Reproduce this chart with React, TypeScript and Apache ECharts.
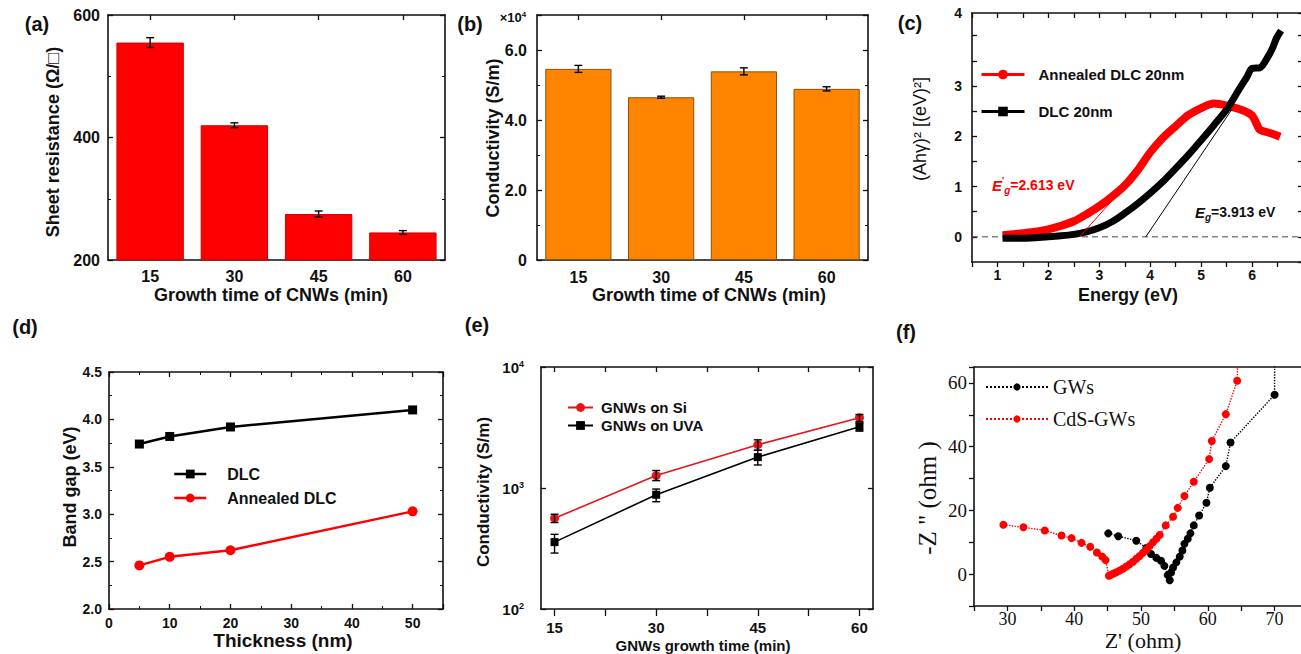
import React, { useEffect, useRef } from 'react';
import * as echarts from 'echarts';

const SANS = '"Liberation Sans", Arial, Helvetica, sans-serif';
const SERIF = '"Liberation Serif", "Times New Roman", serif';
const INK = '#111';
const RED = '#ff0000';
const ORANGE = '#ff8400';

// ---------- (a) sheet resistance ----------
const growthTimes = ['15', '30', '45', '60'];
const sheetResistance = [555, 420, 275, 245];
const sheetResistanceErr = [8, 4, 5, 3];

// ---------- (b) conductivity (x10^4 S/m) ----------
const conductivityE4 = [5.46, 4.65, 5.39, 4.89];
const conductivityE4Err = [0.1, 0.03, 0.1, 0.06];

// ---------- (c) Tauc plot ----------
const annealedDlc20: number[][] = [
  [1.1, 0.03], [1.3, 0.05], [1.5, 0.07], [1.75, 0.1], [2.0, 0.15], [2.25, 0.22], [2.5, 0.31],
  [2.75, 0.45], [3.0, 0.61], [3.25, 0.8], [3.5, 1.02], [3.75, 1.32], [4.0, 1.68], [4.25, 1.97],
  [4.5, 2.2], [4.75, 2.42], [5.0, 2.56], [5.25, 2.65], [5.5, 2.61], [5.8, 2.52], [6.0, 2.41],
  [6.1, 2.22], [6.15, 2.13], [6.3, 2.08], [6.45, 2.03], [6.55, 1.99],
];
const dlc20: number[][] = [
  [1.1, -0.03], [1.5, -0.03], [2.0, 0.0], [2.25, 0.02], [2.5, 0.05], [2.75, 0.1], [3.0, 0.18],
  [3.25, 0.3], [3.5, 0.47], [3.75, 0.66], [4.0, 0.87], [4.25, 1.1], [4.5, 1.36], [4.75, 1.63],
  [5.0, 1.92], [5.25, 2.22], [5.5, 2.53], [5.75, 2.94], [5.9, 3.18], [6.0, 3.35], [6.15, 3.36],
  [6.3, 3.56], [6.4, 3.75], [6.48, 3.95], [6.57, 4.1],
];
const annealedTangent: number[][] = [[2.613, 0], [3.62, 1.14]];
const dlcTangent: number[][] = [[3.913, 0], [5.6, 2.53]];
const zeroBaseline: number[][] = [[0.5, 0], [7, 0]];

// ---------- (d) band gap vs thickness ----------
const thicknessNm = [5, 10, 20, 50];
const dlcBandGap = [3.74, 3.82, 3.92, 4.1];
const annealedBandGap = [2.46, 2.55, 2.62, 3.03];

// ---------- (e) conductivity vs growth time ----------
const gnwTimes = [15, 30, 45, 60];
const gnwSi = [562, 1268, 2280, 3810];
const gnwSiLow = [518, 1150, 2050, 3530];
const gnwSiHigh = [607, 1395, 2500, 4050];
const gnwUva = [357, 880, 1800, 3205];
const gnwUvaLow = [290, 770, 1550, 2950];
const gnwUvaHigh = [414, 980, 2050, 3450];

// ---------- (f) Nyquist ----------
const gwsZ: any[] = [
  [45.1, 12.8], [46.6, 11.9], [49.3, 10.5], [50.8, 8.2], [51.5, 6.3], [52.3, 5.1], [53.0, 4.2],
  [53.5, 2.6], [54.0, -0.3], [54.3, -1.9], [54.5, 0.5], [54.8, 2.1], [55.3, 3.7], [55.8, 5.5],
  [56.2, 7.4], [56.5, 9.5], [57.0, 11.1], [57.4, 12.8], [57.9, 15.3], [58.7, 18.4], [59.8, 22.4],
  [60.3, 27.1], [62.7, 33.9], [63.4, 41.3], [70.0, 56.3], { value: [70.0, 80], symbol: 'none' },
];
const cdsGwsZ: any[] = [
  [29.4, 15.5], [32.4, 14.7], [35.6, 13.7], [38.1, 12.1], [39.6, 11.3], [41.1, 9.8], [42.4, 8.6],
  [43.4, 6.8], [44.2, 5.5], [44.7, 4.4], [45.2, -0.5], [45.5, -0.2], [45.9, 0.2], [46.3, 0.6],
  [46.8, 1.1], [47.3, 1.7], [47.8, 2.4], [48.3, 3.1], [48.8, 3.9], [49.3, 4.8], [49.8, 5.7],
  [50.3, 6.7], [50.8, 7.7], [51.3, 8.8], [51.8, 10.0], [52.3, 11.1], [52.8, 12.3], [53.7, 15.3],
  [54.8, 18.0], [55.5, 20.8], [56.5, 24.5], [57.9, 29.0], [60.2, 36.1], [60.6, 41.8], [62.7, 50.2],
  [64.4, 60.7], { value: [64.6, 80], symbol: 'none' },
];

// ---------------------------------------------------------------
function merge(a: any, b: any): any {
  const r: any = { ...a };
  for (const k in b) {
    const v = b[k];
    if (v && typeof v === 'object' && !Array.isArray(v) && a[k] && typeof a[k] === 'object' && !Array.isArray(a[k])) {
      r[k] = merge(a[k], v);
    } else r[k] = v;
  }
  return r;
}

const baseAxis = {
  splitLine: { show: false },
  axisLine: { show: true, onZero: false, lineStyle: { color: INK, width: 1.6 } },
  axisTick: { show: true, inside: true, length: 5, lineStyle: { color: INK, width: 1.3 } },
  minorTick: { show: false, length: 3, lineStyle: { color: INK, width: 1 } },
  axisLabel: { show: true, color: INK, fontFamily: SANS, fontWeight: 'bold', fontSize: 15 },
};
const ax = (o: any) => merge(baseAxis, o);
const noLabel = { axisLabel: { show: false } };

function errorBars(cap: number) {
  return (_p: any, api: any) => {
    const x = api.value(0);
    const lo = api.coord([x, api.value(1)]);
    const hi = api.coord([x, api.value(2)]);
    const st = { stroke: '#000', lineWidth: 1.4 };
    return {
      type: 'group',
      children: [
        { type: 'line', shape: { x1: lo[0], y1: lo[1], x2: hi[0], y2: hi[1] }, style: st },
        { type: 'line', shape: { x1: lo[0] - cap, y1: lo[1], x2: lo[0] + cap, y2: lo[1] }, style: st },
        { type: 'line', shape: { x1: hi[0] - cap, y1: hi[1], x2: hi[0] + cap, y2: hi[1] }, style: st },
      ],
    };
  };
}

function txt(text: string, x: number, y: number, size: number, o: any = {}) {
  return {
    type: 'text', x, y, rotation: o.rot || 0, silent: true, z: 100,
    style: {
      text, fill: o.color || INK, fontSize: size, fontWeight: o.weight || 'bold',
      fontFamily: o.family || SANS, fontStyle: o.style || 'normal',
      align: o.align || 'center', verticalAlign: 'middle', rich: o.rich,
    },
  };
}

function buildOption() {
  const grids = [
    { left: 108, top: 15, width: 337, height: 245 },
    { left: 537, top: 15, width: 331, height: 245 },
    { left: 972, top: 13, width: 331, height: 249 },
    { left: 109, top: 372, width: 334, height: 237 },
    { left: 541, top: 367, width: 332, height: 242 },
    { left: 974, top: 367, width: 334, height: 239 },
  ].map((g) => ({ ...g, containLabel: false, outerBoundsMode: 'none', show: false }));

  const intLabel = (v: number) =>
    Math.abs(v - Math.round(v)) < 1e-9 && v <= 6 ? String(Math.round(v)) : '';

  const xAxis = [
    // (a)
    ax({ type: 'category', gridIndex: 0, data: growthTimes, axisTick: { alignWithLabel: true }, axisLabel: { fontSize: 16, margin: 8 } }),
    ax({ type: 'category', gridIndex: 0, position: 'top', data: growthTimes, axisTick: { alignWithLabel: true }, ...noLabel }),
    // (b)
    ax({ type: 'category', gridIndex: 1, data: growthTimes, axisTick: { alignWithLabel: true }, axisLabel: { fontSize: 16, margin: 9 } }),
    ax({ type: 'category', gridIndex: 1, position: 'top', data: growthTimes, axisTick: { alignWithLabel: true }, ...noLabel }),
    // (c)
    ax({ type: 'value', gridIndex: 2, min: 0.5, max: 7, interval: 0.5, axisTick: { inside: false, length: 5 },
      axisLabel: { fontSize: 14, margin: 6, formatter: intLabel } }),
    ax({ type: 'value', gridIndex: 2, position: 'top', min: 0.5, max: 7, interval: 0.5, ...noLabel }),
    // (d)
    ax({ type: 'value', gridIndex: 3, min: 0, max: 55, interval: 10, minorTick: { show: true, splitNumber: 2 },
      axisLabel: { fontSize: 14, margin: 7, formatter: (v: number) => (v % 10 === 0 ? String(v) : '') } }),
    ax({ type: 'value', gridIndex: 3, position: 'top', min: 0, max: 55, interval: 10, minorTick: { show: true, splitNumber: 2 }, ...noLabel }),
    // (e)
    ax({ type: 'value', gridIndex: 4, min: 13, max: 62,
      axisLabel: { fontSize: 15, margin: 11, customValues: [15, 30, 45, 60] },
      axisTick: { inside: false, length: 7, customValues: [15, 22.5, 30, 37.5, 45, 52.5, 60] } }),
    ax({ type: 'value', gridIndex: 4, position: 'top', min: 13, max: 62,
      axisLabel: { show: false, customValues: [15, 30, 45, 60] },
      axisTick: { customValues: [15, 22.5, 30, 37.5, 45, 52.5, 60] } }),
    // (f)
    ax({ type: 'value', gridIndex: 5, min: 25, max: 75, interval: 5,
      axisTick: { inside: false, length: 5 },
      axisLabel: { fontFamily: SERIF, fontWeight: 'normal', fontSize: 18, margin: 4, formatter: (v: number) => (v % 10 === 0 ? String(v) : '') } }),
    ax({ type: 'value', gridIndex: 5, position: 'top', min: 25, max: 75, interval: 5, axisTick: { show: false }, ...noLabel }),
  ];

  const yAxis = [
    // (a)
    ax({ type: 'value', gridIndex: 0, min: 200, max: 600, interval: 200, minorTick: { show: true, splitNumber: 2 }, axisLabel: { fontSize: 16, margin: 8 } }),
    ax({ type: 'value', gridIndex: 0, position: 'right', min: 200, max: 600, interval: 200, minorTick: { show: true, splitNumber: 2 }, ...noLabel }),
    // (b)
    ax({ type: 'value', gridIndex: 1, min: 0, max: 7, interval: 2, minorTick: { show: true, splitNumber: 2 },
      axisLabel: { fontSize: 16, margin: 10, formatter: (v: number) => (v === 0 ? '0' : v % 2 === 0 ? v.toFixed(1) : '') } }),
    ax({ type: 'value', gridIndex: 1, position: 'right', min: 0, max: 7, interval: 2, minorTick: { show: true, splitNumber: 2 }, ...noLabel }),
    // (c)
    ax({ type: 'value', gridIndex: 2, min: -0.5, max: 4.45,
      axisLabel: { fontSize: 14, margin: 10, customValues: [0, 1, 2, 3, 4.45], formatter: (v: number) => (v > 4 ? '4' : String(v)) },
      axisTick: { customValues: [0, 0.5, 1, 1.5, 2, 2.5, 3, 3.5, 4] } }),
    ax({ type: 'value', gridIndex: 2, position: 'right', min: -0.5, max: 4.45, interval: 0.5, axisLine: { show: false }, ...noLabel }),
    // (d)
    ax({ type: 'value', gridIndex: 3, min: 2, max: 4.5, interval: 0.5, minorTick: { show: true, splitNumber: 2 },
      axisLabel: { fontSize: 14, margin: 7, formatter: (v: number) => v.toFixed(1) } }),
    ax({ type: 'value', gridIndex: 3, position: 'right', min: 2, max: 4.5, interval: 0.5, minorTick: { show: true, splitNumber: 2 }, ...noLabel }),
    // (e)
    ax({ type: 'log', logBase: 10, gridIndex: 4, min: 100, max: 10000,
      axisLabel: { fontSize: 15, margin: 17, formatter: (v: number) => `10{s|${Math.round(Math.log10(v))}}`,
        rich: { s: { fontSize: 9, fontWeight: 'bold', fontFamily: SANS, color: INK, verticalAlign: 'top', lineHeight: 9 } } } }),
    ax({ type: 'log', logBase: 10, gridIndex: 4, position: 'right', min: 100, max: 10000, ...noLabel }),
    // (f)
    ax({ type: 'value', gridIndex: 5, min: -10, max: 65, interval: 10, axisTick: { inside: false, length: 5 },
      axisLabel: { fontFamily: SERIF, fontWeight: 'normal', fontSize: 19, margin: 7, formatter: (v: number) => (v >= 0 && v % 20 === 0 ? String(v) : '') } }),
    ax({ type: 'value', gridIndex: 5, position: 'right', min: -10, max: 65, interval: 10, axisTick: { show: false }, ...noLabel }),
  ];

  const series: any[] = [
    // (a)
    { type: 'bar', name: 'Sheet resistance', xAxisIndex: 0, yAxisIndex: 0, data: sheetResistance, barCategoryGap: '20%',
      itemStyle: { color: RED, borderColor: '#c80000', borderWidth: 1 } },
    { type: 'custom', xAxisIndex: 0, yAxisIndex: 0, z: 10, renderItem: errorBars(4), encode: { x: 0, y: [1, 2] },
      data: sheetResistance.map((v, i) => [i, v - sheetResistanceErr[i], v + sheetResistanceErr[i]]) },
    // (b)
    { type: 'bar', name: 'Conductivity', xAxisIndex: 2, yAxisIndex: 2, data: conductivityE4, barCategoryGap: '20%',
      itemStyle: { color: ORANGE, borderColor: '#8a5210', borderWidth: 1 } },
    { type: 'custom', xAxisIndex: 2, yAxisIndex: 2, z: 10, renderItem: errorBars(4), encode: { x: 0, y: [1, 2] },
      data: conductivityE4.map((v, i) => [i, v - conductivityE4Err[i], v + conductivityE4Err[i]]) },
    // (c)
    { type: 'line', name: 'zero', xAxisIndex: 4, yAxisIndex: 4, data: zeroBaseline, symbol: 'none', z: 1,
      lineStyle: { color: '#444', width: 1, type: [6, 4] } },
    { type: 'line', name: 'Annealed DLC 20nm', xAxisIndex: 4, yAxisIndex: 4, data: annealedDlc20, smooth: 0.3,
      symbol: 'circle', showSymbol: false, color: RED, lineStyle: { color: RED, width: 8 }, z: 3 },
    { type: 'line', name: 'DLC 20nm', xAxisIndex: 4, yAxisIndex: 4, data: dlc20, smooth: 0.3,
      symbol: 'rect', showSymbol: false, color: '#000', lineStyle: { color: '#000', width: 7 }, z: 4 },
    { type: 'line', name: 'tangentA', xAxisIndex: 4, yAxisIndex: 4, data: annealedTangent, symbol: 'none', z: 5,
      lineStyle: { color: RED, width: 1 } },
    { type: 'line', name: 'tangentD', xAxisIndex: 4, yAxisIndex: 4, data: dlcTangent, symbol: 'none', z: 5,
      lineStyle: { color: '#000', width: 1 } },
    // (d)
    { type: 'line', name: 'DLC', xAxisIndex: 6, yAxisIndex: 6, data: thicknessNm.map((t, i) => [t, dlcBandGap[i]]),
      symbol: 'rect', symbolSize: 9, color: '#000', lineStyle: { color: '#000', width: 2.5 } },
    { type: 'line', name: 'Annealed DLC', xAxisIndex: 6, yAxisIndex: 6, data: thicknessNm.map((t, i) => [t, annealedBandGap[i]]),
      symbol: 'circle', symbolSize: 10, color: RED, lineStyle: { color: RED, width: 2.5 } },
    // (e)
    { type: 'line', name: 'GNWs on Si', xAxisIndex: 8, yAxisIndex: 8, data: gnwTimes.map((t, i) => [t, gnwSi[i]]),
      symbol: 'circle', symbolSize: 9, color: '#e8141a', lineStyle: { color: '#e8141a', width: 1.6 } },
    { type: 'line', name: 'GNWs on UVA', xAxisIndex: 8, yAxisIndex: 8, data: gnwTimes.map((t, i) => [t, gnwUva[i]]),
      symbol: 'rect', symbolSize: 8, color: '#000', lineStyle: { color: '#000', width: 1.6 } },
    { type: 'custom', xAxisIndex: 8, yAxisIndex: 8, z: 10, renderItem: errorBars(4), encode: { x: 0, y: [1, 2] },
      data: gnwTimes.map((t, i) => [t, gnwSiLow[i], gnwSiHigh[i]]) },
    { type: 'custom', xAxisIndex: 8, yAxisIndex: 8, z: 10, renderItem: errorBars(4), encode: { x: 0, y: [1, 2] },
      data: gnwTimes.map((t, i) => [t, gnwUvaLow[i], gnwUvaHigh[i]]) },
    // (f)
    { type: 'line', name: 'GWs', xAxisIndex: 10, yAxisIndex: 10, data: gwsZ, symbol: 'circle', symbolSize: 8,
      color: '#000', lineStyle: { color: '#000', width: 1.4, type: 'dotted' } },
    { type: 'line', name: 'CdS-GWs', xAxisIndex: 10, yAxisIndex: 10, data: cdsGwsZ, symbol: 'circle', symbolSize: 8,
      color: RED, lineStyle: { color: RED, width: 1.4, type: 'dotted' } },
  ];

  const legendBase = { orient: 'vertical', selectedMode: false, padding: 0 };
  const legend = [
    { ...legendBase, data: ['Annealed DLC 20nm', 'DLC 20nm'], left: 980, top: 67, itemWidth: 43, itemHeight: 12, itemGap: 22,
      lineStyle: { width: 3 }, textStyle: { color: INK, fontSize: 15, fontWeight: 'bold', fontFamily: SANS, padding: [0, 0, 0, 9] } },
    { ...legendBase, data: ['DLC', 'Annealed DLC'], left: 173, top: 466, itemWidth: 32, itemHeight: 11, itemGap: 8,
      lineStyle: { width: 2.5 }, textStyle: { color: INK, fontSize: 16, fontWeight: 'bold', fontFamily: SANS, padding: [0, 0, 0, 16] } },
    { ...legendBase, data: ['GNWs on Si', 'GNWs on UVA'], left: 567, top: 400, itemWidth: 25, itemHeight: 11, itemGap: 3,
      lineStyle: { width: 2 }, textStyle: { color: INK, fontSize: 15, fontWeight: 'bold', fontFamily: SANS, padding: [0, 0, 0, 3] } },
    { ...legendBase, data: ['GWs', 'CdS-GWs'], left: 985, top: 377, itemWidth: 62, itemHeight: 9, itemGap: 12,
      textStyle: { color: INK, fontSize: 20, fontFamily: SERIF } },
  ];

  const richE = (color: string) => ({
    i: { fontStyle: 'italic', fontWeight: 'bold', fontSize: 15, fontFamily: SANS, fill: color, lineHeight: 20 },
    sp: { fontWeight: 'bold', fontSize: 9, fontFamily: SANS, fill: color, verticalAlign: 'top', lineHeight: 9 },
    sb: { fontStyle: 'italic', fontWeight: 'bold', fontSize: 10, fontFamily: SANS, fill: color, verticalAlign: 'bottom', lineHeight: 10 },
    n: { fontWeight: 'bold', fontSize: 14, fontFamily: SANS, fill: color, lineHeight: 20 },
  });

  const graphic = [
    txt('(a)', 37, 24, 20),
    txt('(b)', 470, 24, 20),
    txt('(c)', 910, 23, 20),
    txt('(d)', 25, 327, 20),
    txt('(e)', 477, 325, 20),
    txt('(f)', 906, 332, 20),
    txt('Sheet resistance (Ω/□)', 53, 142, 18, { rot: Math.PI / 2 }),
    txt('Growth time of CNWs (min)', 271, 295, 18),
    txt('Conductivity (S/m)', 493, 138, 18, { rot: Math.PI / 2 }),
    txt('Growth time of CNWs (min)', 709, 295, 18),
    txt('×10{s|4}', 513, 17, 13, { rich: { s: { fontSize: 8, fontWeight: 'bold', fontFamily: SANS, fill: INK, verticalAlign: 'top', lineHeight: 8 } } }),
    txt('(Ahγ)² [(eV)²]', 920, 129, 18, { rot: Math.PI / 2, weight: 'normal' }),
    txt('Energy (eV)', 1128, 295, 18),
    txt('{i|E}{sp|′}{sb|g}{n|=2.613 eV}', 992, 185, 14, { align: 'left', color: RED, rich: richE(RED) }),
    txt('{i|E}{sb|g}{n|=3.913 eV}', 1195, 212, 14, { align: 'left', rich: richE(INK) }),
    txt('Band gap (eV)', 70, 487, 18, { rot: Math.PI / 2 }),
    txt('Thickness (nm)', 283, 640, 19),
    txt('Conductivity (S/m)', 483, 492, 17, { rot: Math.PI / 2 }),
    txt('GNWs growth time (min)', 703, 645, 15),
    txt('-Z " (ohm )', 927, 498, 25, { rot: Math.PI / 2, family: SERIF, weight: 'normal' }),
    txt("Z' (ohm)", 1143, 640, 22, { family: SERIF, weight: 'normal' }),
  ];

  return {
    animation: false,
    backgroundColor: '#ffffff',
    grid: grids,
    xAxis,
    yAxis,
    series,
    legend,
    graphic,
  };
}

export default function App() {
  const ref = useRef<HTMLDivElement>(null);
  useEffect(() => {
    if (!ref.current) return;
    const chart = echarts.init(ref.current, null, { renderer: 'svg' });
    chart.setOption(buildOption() as any);
    return () => chart.dispose();
  }, []);
  return (
    <div
      ref={ref}
      style={{ position: 'fixed', left: 0, top: 0, width: 1301, height: 654, background: '#fff' }}
    />
  );
}
